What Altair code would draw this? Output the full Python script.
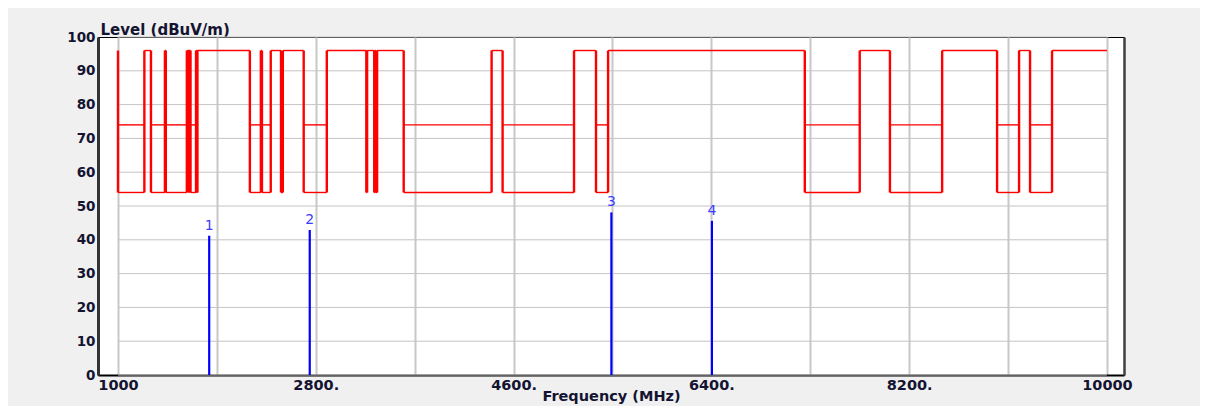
import altair as alt
import pandas as pd

# ---- data ----
band_start = [1000, 1300, 1435, 1645.5, 1660, 1718.8, 2200, 2310, 2483.5, 2690,
              3260, 3332, 3345.8, 3600, 4500, 5350, 7250, 8025, 9000, 9300]
band_end = [1240, 1427, 1626.5, 1646.5, 1710, 1722.2, 2300, 2390, 2500, 2900,
            3267, 3339, 3358, 4400, 5150, 5460, 7750, 8500, 9200, 9500]
open_level = 96
peak_level = 74
avg_level = 54
span_start = 1000
span_end = 10000

marker_freq = [1830, 2745, 5490, 6405]
marker_level = [41.2, 42.9, 48.1, 45.6]
marker_label = ["1", "2", "3", "4"]

x_grid = [1000, 1900, 2800, 3700, 4600, 5500, 6400, 7300, 8200, 9100, 10000]
x_label_values = [1000, 2800, 4600, 6400, 8200, 10000]
x_label_text = ["1000", "2800.", "4600.", "6400.", "8200.", "10000"]
y_grid = [0, 10, 20, 30, 40, 50, 60, 70, 80, 90, 100]
x_domain = [818, 10155]
y_domain = [0, 100]

# ---- tables ----
# horizontal pieces of the limit lines
hseg = []
for lo, hi in zip(band_start, band_end):
    hseg.append({"f0": lo, "f1": hi, "level": peak_level})
    hseg.append({"f0": lo, "f1": hi, "level": avg_level})
open_from = band_end
open_to = band_start[1:] + [span_end]
for lo, hi in zip(open_from, open_to):
    hseg.append({"f0": lo, "f1": hi, "level": open_level})
hseg_df = pd.DataFrame(hseg)

# vertical pieces at every band edge
edges = band_start + band_end
vseg_df = pd.DataFrame({"freq": edges, "low": [avg_level] * len(edges),
                        "high": [open_level] * len(edges)})

marker_df = pd.DataFrame({"freq": marker_freq, "level": marker_level,
                          "label": marker_label, "base": [0] * len(marker_freq)})
hgrid_df = pd.DataFrame({"level": y_grid, "f0": [span_start] * len(y_grid),
                         "f1": [span_end] * len(y_grid)})

FONT = "DejaVu Sans"
TXT = "#141432"

lab_vals = "[" + ",".join(str(v) for v in x_label_values) + "]"
lab_txt = "[" + ",".join("'" + t + "'" for t in x_label_text) + "]"
label_expr = f"indexof({lab_vals}, datum.value) >= 0 ? {lab_txt}[indexof({lab_vals}, datum.value)] : ''"

x_scale = alt.Scale(domain=x_domain, nice=False, zero=False)
y_scale = alt.Scale(domain=y_domain, nice=False, zero=False)

x_axis = alt.Axis(values=x_grid, grid=True, gridColor="#c8c8c8", gridWidth=2,
                  ticks=False, labelExpr=label_expr, labelFont=FONT,
                  labelFontWeight="bold", labelFontSize=14.5, labelColor=TXT,
                  labelPadding=3, labelFlush=False, labelOverlap=False,
                  domainColor="#000000", domainWidth=2,
                  title="Frequency (MHz)", titleFont=FONT, titleFontSize=14.5,
                  titleFontWeight="bold", titleColor=TXT, titleY=21,
                  titleBaseline="middle")

y_axis_main = alt.Axis(values=y_grid, grid=False, ticks=False, labelFont=FONT,
                       labelFontWeight="bold", labelFontSize=13.5, labelColor=TXT,
                       labelPadding=3, labelFlush=False, labelOverlap=False,
                       domainColor="#333333", domainWidth=3,
                       title="Level (dBuV/m)", titleFont=FONT, titleFontSize=15,
                       titleFontWeight="bold", titleColor=TXT, titleAngle=0,
                       titleAlign="left", titleBaseline="middle", titleX=2,
                       titleY=-8)

y_axis_right = alt.Axis(orient="right", labels=False, ticks=False, grid=False,
                        domainColor="#404040", domainWidth=2.5, title=None)

hgrid = alt.Chart(hgrid_df).mark_rule(color="#c4c4c4", strokeWidth=1).encode(
    x=alt.X("f0:Q", scale=x_scale, axis=x_axis),
    x2="f1:Q",
    y=alt.Y("level:Q", scale=y_scale, axis=y_axis_right),
)

limit_h = alt.Chart(hseg_df).mark_rule(color="#ff0000", strokeWidth=1.4).encode(
    x=alt.X("f0:Q", scale=x_scale, axis=x_axis),
    x2="f1:Q",
    y=alt.Y("level:Q", scale=y_scale, axis=y_axis_main),
)

limit_v = alt.Chart(vseg_df).mark_rule(color="#ff0000", strokeWidth=2.4).encode(
    x=alt.X("freq:Q", scale=x_scale, axis=x_axis),
    y=alt.Y("low:Q", scale=y_scale, axis=None),
    y2="high:Q",
)

spikes = alt.Chart(marker_df).mark_rule(color="#0000ff", strokeWidth=2.2).encode(
    x=alt.X("freq:Q", scale=x_scale, axis=x_axis),
    y=alt.Y("base:Q", scale=y_scale, axis=None),
    y2="level:Q",
)

labels = alt.Chart(marker_df).mark_text(baseline="bottom", dy=-3, font=FONT,
                                        fontSize=14, color="#3c3cff").encode(
    x=alt.X("freq:Q", scale=x_scale, axis=x_axis),
    y=alt.Y("level:Q", scale=y_scale, axis=None),
    text="label:N",
)

chart = alt.layer(hgrid, limit_h, limit_v, spikes, labels).resolve_axis(
    y="independent"
).properties(
    width=1026, height=338,
    padding={"left": 90, "top": 29, "right": 76, "bottom": 31},
    autosize=alt.AutoSizeParams(type="none"),
    background="#f0f0f0",
).configure_view(fill="white", stroke="#000000", strokeWidth=1)

chart.save("out.html", embed_options={"renderer": "svg", "actions": False})
